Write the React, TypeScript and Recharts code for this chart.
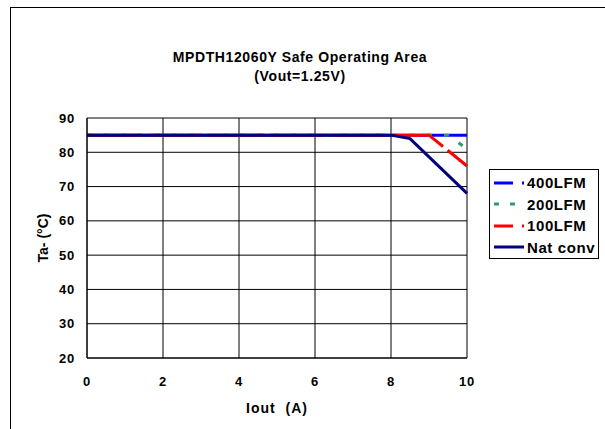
import { LineChart, Line, XAxis, YAxis, CartesianGrid, Legend } from 'recharts';

// Safe operating area, Ta (°C) vs Iout (A)
const ioutTicks = [0, 2, 4, 6, 8, 10];
const taTicks = [20, 30, 40, 50, 60, 70, 80, 90];

const lfm400Iout = [0, 10];
const lfm400Ta = [85, 85];
const lfm200Iout = [0, 9.5, 10];
const lfm200Ta = [85, 85, 81];
const lfm100Iout = [0, 9, 10];
const lfm100Ta = [85, 85, 76];
const natIout = [0, 8, 8.5, 10];
const natTa = [85, 85, 84, 68];

const toPoints = (xs: number[], ys: number[]) => xs.map((iout, i) => ({ iout, ta: ys[i] }));

const series = [
  { name: '400LFM', color: '#0000ff', data: toPoints(lfm400Iout, lfm400Ta), dash: undefined, legendDash: '19 9' },
  { name: '200LFM', color: '#339966', data: toPoints(lfm200Iout, lfm200Ta), dash: '5 12', legendDash: '5 11' },
  { name: '100LFM', color: '#ff0000', data: toPoints(lfm100Iout, lfm100Ta), dash: '55 6', legendDash: '19 9' },
  { name: 'Nat conv', color: '#000080', data: toPoints(natIout, natTa), dash: undefined, legendDash: undefined },
];

const font = '"Liberation Sans", Arial, sans-serif';
const tickStyle = { fill: '#000', fontSize: 13, fontWeight: 700, fontFamily: font, letterSpacing: 0.8 };

function LegendBox() {
  return (
    <div style={{ border: '1px solid #000', background: '#fff', width: 110, height: 90, boxSizing: 'border-box', paddingTop: 2 }}>
      {series.map((s) => (
        <div key={s.name} style={{ display: 'flex', alignItems: 'center', height: 21.5, whiteSpace: 'nowrap' }}>
          <svg width={37} height={10} style={{ display: 'block', flex: 'none' }}>
            <line x1={4} x2={34} y1={5} y2={5} stroke={s.color} strokeWidth={3} strokeDasharray={s.legendDash} />
          </svg>
          <span style={{ fontFamily: font, fontWeight: 700, fontSize: 15, letterSpacing: 0.6, color: '#000' }}>{s.name}</span>
        </div>
      ))}
    </div>
  );
}

export default function App() {
  return (
    <div style={{ position: 'absolute', left: 0, top: 0, width: 605, height: 429, background: '#fff', overflow: 'hidden' }}>
      <div style={{ position: 'absolute', left: 10, top: 7, width: 620, height: 450, border: '1px solid #000' }} />
      <div
        style={{
          position: 'absolute',
          left: 100,
          top: 48,
          width: 400,
          textAlign: 'center',
          fontFamily: font,
          fontWeight: 700,
          fontSize: 14,
          letterSpacing: 0.6,
          lineHeight: '19px',
        }}
      >
        <div>MPDTH12060Y Safe Operating Area</div>
        <div>(Vout=1.25V)</div>
      </div>
      <div style={{ position: 'absolute', left: 0, top: 0 }}>
        <LineChart width={605} height={429} margin={{ top: 118, right: 138, bottom: 11, left: 0 }}>
          <CartesianGrid stroke="#000" strokeWidth={1} />
          <XAxis
            dataKey="iout"
            type="number"
            domain={[0, 10]}
            ticks={ioutTicks}
            height={60}
            tickLine={false}
            tickSize={6}
            tickMargin={13}
            axisLine={{ stroke: '#000' }}
            tick={tickStyle}
            allowDuplicatedCategory={false}
            label={{
              value: 'Iout\u00A0\u00A0(A)',
              position: 'insideBottom',
              offset: 5,
              style: { fill: '#000', fontSize: 14, fontWeight: 700, fontFamily: font, letterSpacing: 1 },
            }}
          />
          <YAxis
            type="number"
            domain={[20, 90]}
            ticks={taTicks}
            width={87}
            tickLine={false}
            tickSize={6}
            tickMargin={6}
            axisLine={{ stroke: '#000' }}
            tick={tickStyle}
            label={{
              value: 'Ta- (°C)',
              angle: -90,
              position: 'insideLeft',
              offset: 43,
              style: { textAnchor: 'middle', fill: '#000', fontSize: 14, fontWeight: 700, fontFamily: font },
            }}
          />
          {series.map((s) => (
            <Line
              key={s.name}
              data={s.data}
              dataKey="ta"
              name={s.name}
              stroke={s.color}
              strokeWidth={3}
              strokeDasharray={s.dash}
              dot={false}
              activeDot={false}
              type="linear"
              isAnimationActive={false}
            />
          ))}
          <Legend
            layout="vertical"
            align="center"
            verticalAlign="middle"
            wrapperStyle={{ left: 489, top: 169, width: 110, height: 90 }}
            content={() => <LegendBox />}
          />
        </LineChart>
      </div>
    </div>
  );
}
